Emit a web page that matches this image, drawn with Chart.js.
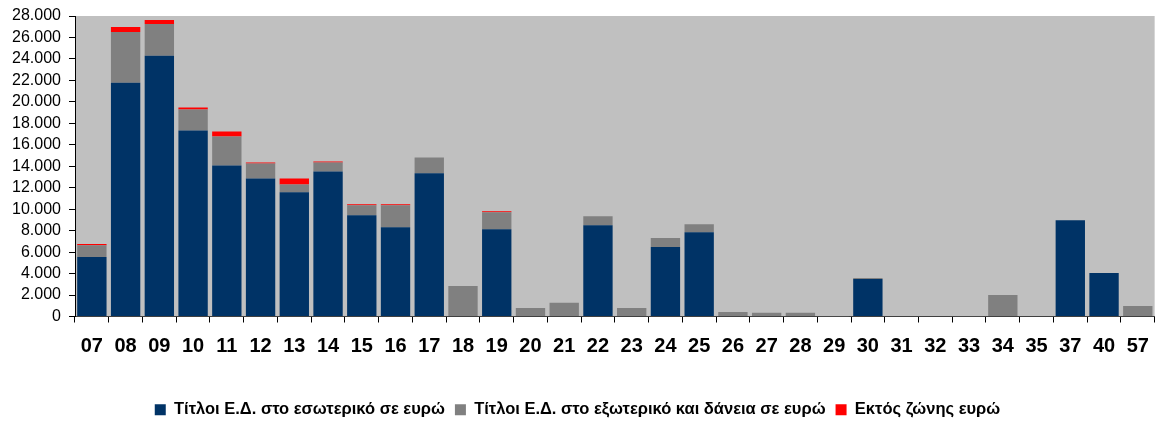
<!DOCTYPE html>
<html>
<head>
<meta charset="utf-8">
<script src="https://cdn.jsdelivr.net/npm/chart.js@4/dist/chart.umd.min.js"></script>
<style>
  html, body { margin: 0; padding: 0; background: #fff; overflow: hidden; }
  #wrap { width: 1161px; height: 428px; }
</style>
</head>
<body>
<div id="wrap"><canvas id="chart" width="1161" height="428"></canvas></div>
<script>
// Κατηγορίες (άξονας x)
const categories = ["07", "08", "09", "10", "11", "12", "13", "14", "15", "16", "17", "18", "19", "20", "21", "22",
  "23", "24", "25", "26", "27", "28", "29", "30", "31", "32", "33", "34", "35", "37", "40", "57"];

// Τίτλοι Ε.Δ. στο εσωτερικό σε ευρώ
const domestic = [5540, 21780, 24290, 17330, 14080, 12870, 11570, 13520, 9440, 8320, 13340, 0, 8140, 0, 0, 8510,
  0, 6470, 7860, 0, 0, 0, 0, 3500, 0, 0, 0, 0, 0, 8970, 4050, 0];

// Τίτλοι Ε.Δ. στο εξωτερικό και δάνεια σε ευρώ
const abroad = [1110, 4730, 2970, 1950, 2690, 1390, 740, 840, 930, 2040, 1480, 2850, 1580, 800, 1270, 830,
  800, 840, 740, 430, 340, 340, 20, 90, 40, 40, 30, 2010, 0, 0, 0, 990];

// Εκτός ζώνης ευρώ
const outsideEuro = [100, 460, 370, 190, 460, 90, 560, 90, 90, 90, 0, 0, 90, 0, 0, 0,
  0, 0, 0, 0, 0, 0, 0, 0, 0, 0, 0, 0, 0, 0, 0, 0];

const yTicks = { min: 0, max: 28000, step: 2000 };

// γκρι φόντο στην περιοχή του γραφήματος
const plotBg = {
  id: "plotBg",
  beforeDraw(chart) {
    const { ctx, chartArea: a } = chart;
    ctx.save();
    ctx.fillStyle = "#C0C0C0";
    ctx.fillRect(a.left, a.top, a.right - a.left, a.bottom - a.top);
    ctx.restore();
  },
};

const fmt = (v) => String(v).replace(/\B(?=(\d{3})+(?!\d))/g, ".");

new Chart(document.getElementById("chart"), {
  type: "bar",
  data: {
    labels: categories,
    datasets: [
      { label: "Τίτλοι Ε.Δ. στο εσωτερικό σε ευρώ", data: domestic, backgroundColor: "#003366" },
      { label: "Τίτλοι Ε.Δ. στο εξωτερικό και δάνεια σε ευρώ", data: abroad, backgroundColor: "#808080" },
      { label: "Εκτός ζώνης ευρώ", data: outsideEuro, backgroundColor: "#FF0000" },
    ],
  },
  plugins: [plotBg],
  options: {
    responsive: false,
    animation: false,
    datasets: { bar: { barPercentage: 0.87, categoryPercentage: 1 } },
    layout: { padding: { top: 15, right: 6, left: 0, bottom: 0 } },
    plugins: {
      tooltip: { enabled: false },
      legend: {
        position: "bottom",
        labels: {
          boxWidth: 11,
          boxHeight: 11,
          padding: 10,
          color: "#000",
          font: { family: "'Liberation Sans', Arial, sans-serif", size: 16.5, weight: "bold" },
        },
      },
    },
    scales: {
      x: {
        stacked: true,
        grid: { drawOnChartArea: false, color: "#000", tickLength: 6 },
        border: { color: "#404040" },
        ticks: {
          color: "#000",
          padding: 12,
          maxRotation: 0,
          autoSkip: false,
          font: { family: "'Liberation Sans', Arial, sans-serif", size: 20, weight: "bold" },
        },
        afterFit(scale) { scale.height = 75; },
      },
      y: {
        stacked: true,
        min: yTicks.min,
        max: yTicks.max,
        grid: { drawOnChartArea: false, color: "#000", tickLength: 6 },
        border: { color: "#000" },
        ticks: {
          stepSize: yTicks.step,
          autoSkip: false,
          color: "#000",
          padding: 8,
          font: { family: "'Liberation Sans', Arial, sans-serif", size: 16, lineHeight: 1 },
          callback: (v) => fmt(v),
        },
        afterFit(scale) { scale.width = 75; },
      },
    },
  },
});
</script>
</body>
</html>
